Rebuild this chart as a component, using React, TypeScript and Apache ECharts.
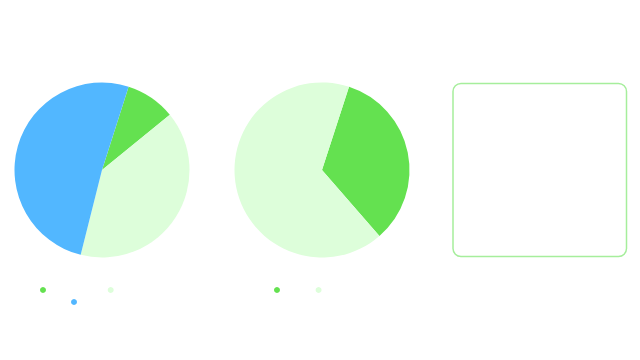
import React, { useEffect, useRef } from "react";
import * as echarts from "echarts";

const GREEN = "#64E150";
const LIGHT = "#DDFEDA";
const BLUE = "#52B7FF";

const pie1Names = ["Online", "Retail", "Wholesale"];
const pie1Values = [9.2, 39.8, 51];
const pie1Colors = [GREEN, LIGHT, BLUE];

const pie2Names = ["Yes", "No"];
const pie2Values = [33.6, 66.4];
const pie2Colors = [GREEN, LIGHT];

export default function App() {
  const ref = useRef<HTMLDivElement>(null);
  useEffect(() => {
    document.body.style.margin = "0";
    const chart = echarts.init(ref.current!, null, { renderer: "svg" });
    const legendBase = {
      orient: "horizontal",
      icon: "circle",
      itemWidth: 6,
      itemHeight: 6,
      padding: 0,
      textStyle: { color: "#ffffff", fontSize: 12 },
      selectedMode: false,
    };
    chart.setOption({
      animation: false,
      backgroundColor: "#ffffff",
      legend: [
        { ...legendBase, left: 40, top: 284, itemGap: 22, data: pie1Names.slice(0, 2) },
        { ...legendBase, left: 71, top: 296, itemGap: 20, data: pie1Names.slice(2) },
        { ...legendBase, left: 274, top: 284, itemGap: 11, data: pie2Names },
      ],
      series: [
        {
          type: "pie",
          center: [102, 170],
          radius: 87.5,
          startAngle: 72.3,
          label: { show: false },
          labelLine: { show: false },
          silent: true,
          data: pie1Names.map((n, i) => ({ name: n, value: pie1Values[i], itemStyle: { color: pie1Colors[i] } })),
        },
        {
          type: "pie",
          center: [322, 170],
          radius: 87.5,
          startAngle: 72,
          label: { show: false },
          labelLine: { show: false },
          silent: true,
          data: pie2Names.map((n, i) => ({ name: n, value: pie2Values[i], itemStyle: { color: pie2Colors[i] } })),
        },
      ],
      graphic: [
        {
          type: "rect",
          shape: { x: 453, y: 83.5, width: 173.5, height: 173, r: 8 },
          style: { fill: "none", stroke: "#A6EE9C", lineWidth: 1.5 },
        },
      ],
    });
    return () => chart.dispose();
  }, []);
  return <div ref={ref} style={{ width: 640, height: 360 }} />;
}
